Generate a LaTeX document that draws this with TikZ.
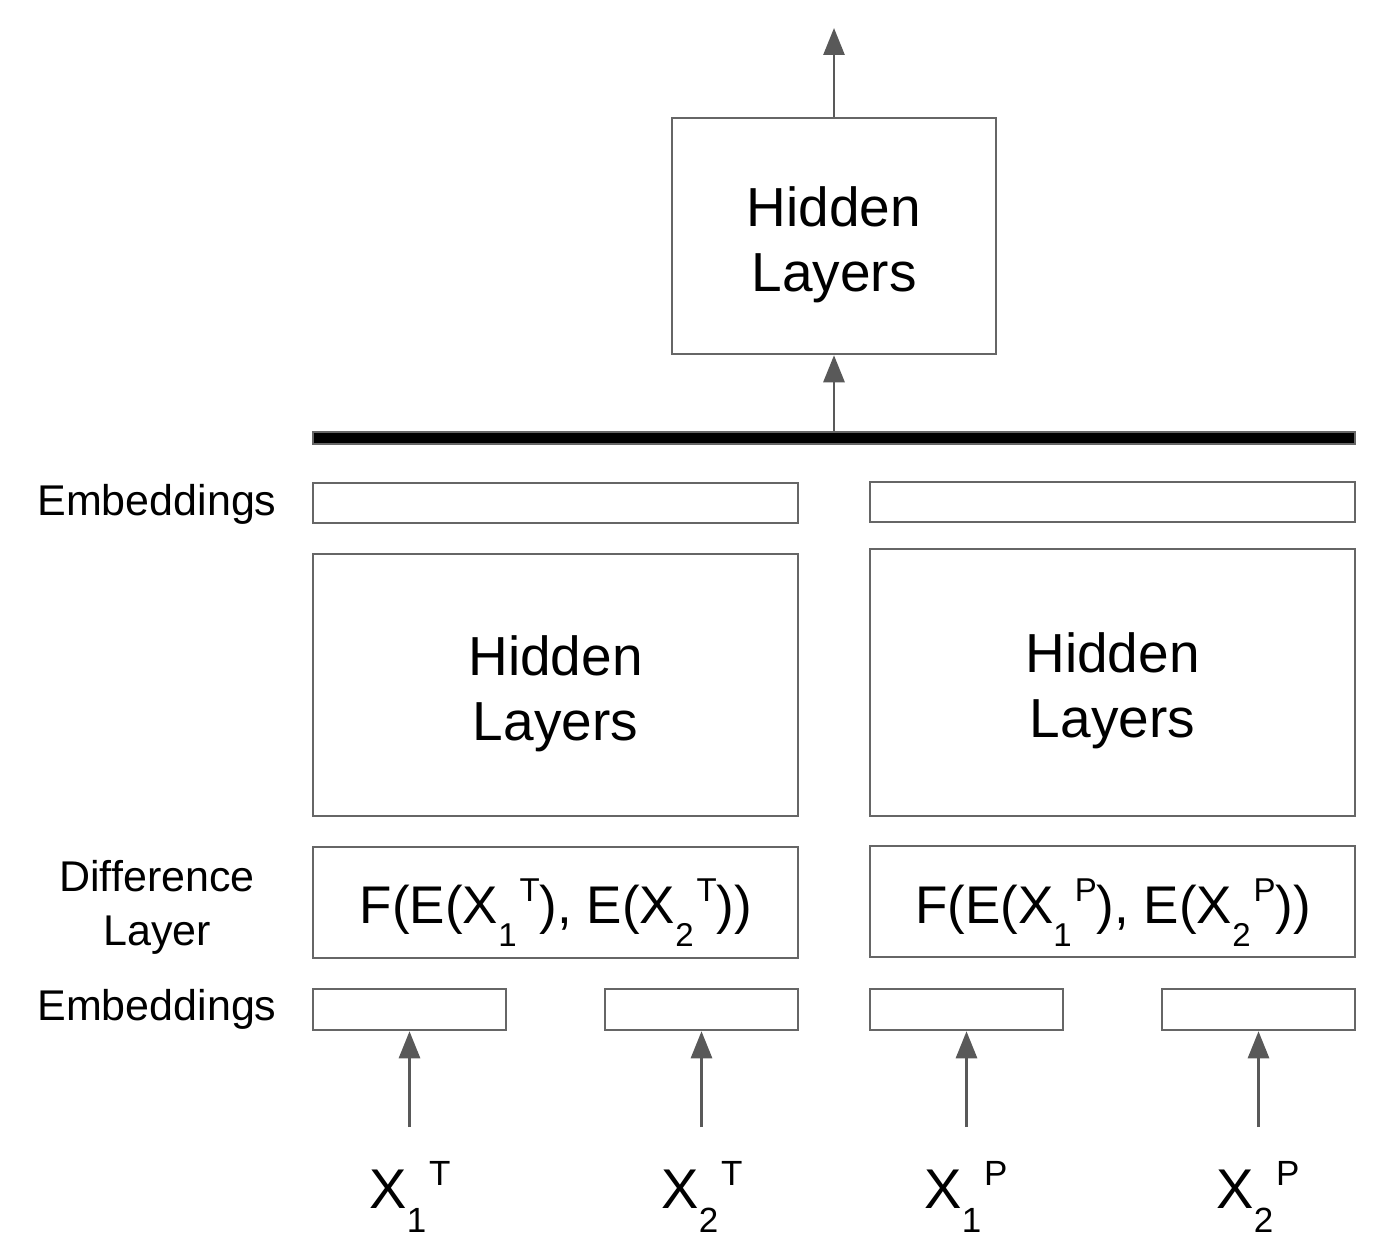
\documentclass[tikz,border=0pt]{standalone}
\usepackage{fontspec}
\setmainfont{Liberation Sans}
\usetikzlibrary{arrows.meta}
\definecolor{boxgray}{HTML}{666666}
\definecolor{arrgray}{HTML}{595959}
\newcommand{\xsub}[2]{\raisebox{-0.44em}{\fontsize{#1}{#1}\selectfont #2}}
\newcommand{\xsup}[2]{\kern3pt\raisebox{0.40em}{\fontsize{#1}{#1}\selectfont #2}}
\tikzset{
  box/.style={draw=boxgray, line width=2.5pt, inner sep=0pt, align=center},
  arr/.style={draw=arrgray, line width=2.8pt, -{Triangle[width=21pt,length=27pt]}},
  lbl/.style={font=\fontsize{43}{54}\selectfont, align=center, inner sep=0pt},
  big/.style={font=\fontsize{55}{65}\selectfont, align=center, inner sep=0pt},
  ftext/.style={font=\fontsize{53}{64}\selectfont, inner sep=0pt, anchor=base},
  xlab/.style={font=\fontsize{56}{66}\selectfont, inner sep=0pt, anchor=base},
}
\begin{document}
\begin{tikzpicture}[x=1pt,y=-1pt]
\useasboundingbox (0,0) rectangle (1382,1252);
% top hidden
\node[box,minimum width=324pt,minimum height=236pt] (htop) at (834,236) {};
\node[big] (htopt) at (834,245) {Hidden\\Layers};
\coordinate (out) at (834,28);
% bar
\node[draw=boxgray, fill=black, line width=2pt, inner sep=0pt, minimum width=1042pt, minimum height=12pt] (bar) at (834,437.5) {};
\draw[arr] (htop.north) -- (out);
\draw[arr] (bar.north) -- (htop.south);
% upper embeddings
\node[box,minimum width=485pt,minimum height=40pt] (embL) at (555.5,503) {};
\node[box,minimum width=485pt,minimum height=40pt] (embR) at (1112.5,502) {};
% hidden
\node[box,minimum width=485pt,minimum height=262pt] (hidL) at (555.5,685) {};
\node[big] (hidLt) at (555.5,694) {Hidden\\Layers};
\node[box,minimum width=485pt,minimum height=267pt] (hidR) at (1112.5,682.5) {};
\node[big] (hidRt) at (1112.5,691) {Hidden\\Layers};
% difference
\node[box,minimum width=485pt,minimum height=111pt] (difL) at (555.5,902.5) {};
\node[box,minimum width=485pt,minimum height=111pt] (difR) at (1112.5,901.5) {};
\node[ftext] (fL) at (556,923) {F(E(X\xsub{33}{1}\xsup{33}{T}), E(X\xsub{33}{2}\xsup{33}{T}))};
\node[ftext] (fR) at (1113,923) {F(E(X\xsub{33}{1}\xsup{33}{P}), E(X\xsub{33}{2}\xsup{33}{P}))};
% lower embeddings
\node[box,minimum width=193pt,minimum height=41pt] (e1) at (409.5,1009.5) {};
\node[box,minimum width=193pt,minimum height=41pt] (e2) at (701.5,1009.5) {};
\node[box,minimum width=193pt,minimum height=41pt] (e3) at (966.5,1009.5) {};
\node[box,minimum width=193pt,minimum height=41pt] (e4) at (1258.5,1009.5) {};
\coordinate (s1) at (409.5,1127);
\coordinate (s2) at (701.5,1127);
\coordinate (s3) at (966.5,1127);
\coordinate (s4) at (1258.5,1127);
\draw[arr] (s1) -- (e1.south);
\draw[arr] (s2) -- (e2.south);
\draw[arr] (s3) -- (e3.south);
\draw[arr] (s4) -- (e4.south);
% input labels
\node[xlab] (x1) at (410,1208) {X\xsub{35}{1}\xsup{35}{T}};
\node[xlab] (x2) at (702,1208) {X\xsub{35}{2}\xsup{35}{T}};
\node[xlab] (x3) at (966,1208) {X\xsub{35}{1}\xsup{35}{P}};
\node[xlab] (x4) at (1258,1208) {X\xsub{35}{2}\xsup{35}{P}};
% side labels
\node[lbl,anchor=base] (lemb1) at (157,515) {Embeddings};
\node[lbl] (ldiff) at (157,907) {Difference\\Layer};
\node[lbl,anchor=base] (lemb2) at (157,1020) {Embeddings};
\end{tikzpicture}
\end{document}
